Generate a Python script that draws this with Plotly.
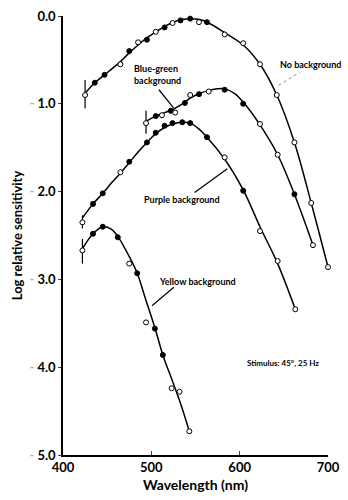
import plotly.graph_objects as go

# ---------------- data ----------------
# No background
nb_wl   = [425, 436, 447, 465, 475, 485, 495, 505, 515, 524, 533, 544, 554, 563, 583, 604, 623, 642, 662, 681, 700]
nb_val  = [-0.90, -0.76, -0.67, -0.55, -0.40, -0.30, -0.27, -0.18, -0.13, -0.08, -0.05, -0.03, -0.07, -0.07, -0.21, -0.31, -0.55, -0.90, -1.44, -2.13, -2.86]
nb_fill = [0, 1, 1, 0, 1, 0, 1, 0, 1, 0, 1, 1, 0, 1, 0, 0, 0, 0, 0, 0, 0]
nb_fit_wl  = [425, 436, 447, 465, 475, 485, 495, 505, 515, 525, 535, 545, 555, 565, 583, 604, 623, 642, 662, 681, 700]
nb_fit_val = [-0.88, -0.76, -0.67, -0.52, -0.42, -0.33, -0.25, -0.18, -0.12, -0.07, -0.04, -0.03, -0.04, -0.08, -0.19, -0.33, -0.55, -0.90, -1.44, -2.13, -2.86]

# Blue-green background
bg_wl   = [494, 505, 512, 522, 527, 538, 544, 554, 565, 583, 604, 623, 643, 662, 683]
bg_val  = [-1.22, -1.14, -1.13, -1.08, -1.10, -0.99, -0.90, -0.89, -0.86, -0.84, -1.00, -1.23, -1.58, -2.03, -2.61]
bg_fill = [0, 1, 0, 1, 0, 1, 0, 1, 0, 1, 1, 0, 0, 1, 0]
bg_fit_wl  = [494, 505, 515, 525, 535, 545, 555, 565, 575, 583, 594, 604, 623, 643, 662, 683]
bg_fit_val = [-1.20, -1.14, -1.10, -1.06, -1.00, -0.93, -0.88, -0.85, -0.83, -0.83, -0.88, -0.98, -1.24, -1.58, -2.03, -2.61]

# Purple background
pu_wl   = [422, 434, 445, 465, 475, 495, 505, 515, 524, 535, 544, 563, 583, 604, 623, 643, 663]
pu_val  = [-2.35, -2.14, -2.02, -1.78, -1.66, -1.44, -1.33, -1.25, -1.22, -1.21, -1.22, -1.38, -1.61, -1.99, -2.45, -2.79, -3.34]
pu_fill = [0, 1, 1, 0, 1, 1, 1, 1, 1, 1, 1, 1, 0, 1, 0, 0, 0]
pu_fit_wl  = [422, 434, 445, 455, 465, 475, 485, 495, 505, 515, 524, 535, 544, 553, 563, 583, 604, 623, 643, 663]
pu_fit_val = [-2.30, -2.14, -2.02, -1.90, -1.79, -1.67, -1.55, -1.44, -1.34, -1.27, -1.23, -1.21, -1.22, -1.28, -1.38, -1.63, -1.98, -2.40, -2.82, -3.34]

# Yellow background
ye_wl   = [422, 434, 445, 462, 475, 484, 494, 504, 513, 523, 532, 543]
ye_val  = [-2.67, -2.48, -2.40, -2.52, -2.82, -2.93, -3.49, -3.56, -3.86, -4.24, -4.28, -4.73]
ye_fill = [0, 1, 1, 1, 0, 1, 0, 1, 1, 0, 0, 0]
ye_fit_wl  = [422, 434, 445, 455, 462, 475, 484, 494, 504, 513, 524, 533, 543]
ye_fit_val = [-2.65, -2.48, -2.40, -2.43, -2.51, -2.74, -2.93, -3.24, -3.55, -3.86, -4.16, -4.41, -4.73]

# Error bars on first points
err_wl     = [425, 494, 422, 422]
err_top    = [-0.73, -1.08, -2.27, -2.54]
err_bottom = [-1.05, -1.34, -2.42, -2.82]

x_ticks = [400, 500, 600, 700]
y_ticks = [0, -1, -2, -3, -4, -5]
y_ticktext = ["0.0"] + ["<span style='color:#b0b0b0'>- </span>%d.0" % k for k in range(1, 6)]

FONT = "Lato"

fig = go.Figure()

series = [
    (nb_wl, nb_val, nb_fill, nb_fit_wl, nb_fit_val),
    (bg_wl, bg_val, bg_fill, bg_fit_wl, bg_fit_val),
    (pu_wl, pu_val, pu_fill, pu_fit_wl, pu_fit_val),
    (ye_wl, ye_val, ye_fill, ye_fit_wl, ye_fit_val),
]

for wl, val, fill, fwl, fval in series:
    fig.add_trace(go.Scatter(x=fwl, y=fval, mode="lines", cliponaxis=False,
                             line=dict(color="black", width=1.5, shape="spline", smoothing=1.0),
                             hoverinfo="skip", showlegend=False))

# error bars
ex, ey = [], []
for w, t, b in zip(err_wl, err_top, err_bottom):
    ex += [w, w, None]
    ey += [t, b, None]
fig.add_trace(go.Scatter(x=ex, y=ey, mode="lines", line=dict(color="black", width=1.2),
                         showlegend=False, hoverinfo="skip"))

for wl, val, fill, fwl, fval in series:
    fig.add_trace(go.Scatter(
        x=wl, y=val, mode="markers", showlegend=False, cliponaxis=False,
        marker=dict(size=5, symbol="circle",
                    color=["black" if f else "white" for f in fill],
                    line=dict(color="black", width=1))))

# leader lines
fig.add_shape(type="line", x0=644, y0=-0.79, x1=668, y1=-0.64,
              line=dict(color="#888", width=1, dash="dot"))
fig.add_shape(type="line", x0=508.6, y0=-0.84, x1=525.4, y1=-1.05,
              line=dict(color="black", width=1.2))
fig.add_shape(type="line", x0=549, y0=-2.01, x1=586, y1=-1.74,
              line=dict(color="black", width=1.2))
fig.add_shape(type="line", x0=500.8, y0=-3.30, x1=525.4, y1=-3.09,
              line=dict(color="black", width=1.2))

ann_font = dict(family=FONT, size=9, color="black", weight="bold")
fig.add_annotation(x=680, y=-0.55, text="No background", showarrow=False,
                   xanchor="center", yanchor="middle", font=ann_font)
fig.add_annotation(x=478.4, y=-0.67, text="Blue-green<br>background", showarrow=False,
                   xanchor="left", yanchor="middle", align="left", font=ann_font)
fig.add_annotation(x=489.6, y=-2.09, text="Purple background", showarrow=False,
                   xanchor="left", yanchor="middle", font=ann_font)
fig.add_annotation(x=506.4, y=-3.02, text="Yellow background", showarrow=False,
                   xanchor="left", yanchor="middle", font=ann_font)
fig.add_annotation(x=606, y=-3.95, text="Stimulus: 45°, 25 Hz", showarrow=False,
                   xanchor="left", yanchor="middle", font=dict(family=FONT, size=8, color="black", weight="bold"))

fig.update_layout(
    width=348, height=500,
    margin=dict(l=63, r=17, t=8, b=45),
    paper_bgcolor="white", plot_bgcolor="white",
    font=dict(family=FONT, color="black"),
    xaxis=dict(range=[400, 700], tickvals=x_ticks, ticks="inside", ticklen=4,
               showline=True, linecolor="black", linewidth=1.5, showgrid=False, zeroline=False,
               tickfont=dict(size=13, weight="bold"),
               title=dict(text="Wavelength (nm)", font=dict(size=14, weight="bold"), standoff=6)),
    yaxis=dict(range=[-5, 0], tickvals=y_ticks, ticktext=y_ticktext, ticks="outside", ticklen=3,
               showline=True, linecolor="black", linewidth=1.5, showgrid=False, zeroline=False,
               ticklabeloverflow="allow",
               tickfont=dict(size=13, weight="bold"),
               title=dict(text="Log relative sensitivity", font=dict(size=13, weight="bold"), standoff=4)),
)

fig.write_html("out.html")
